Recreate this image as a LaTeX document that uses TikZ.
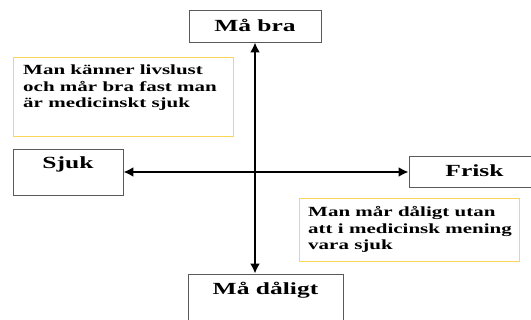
\documentclass[tikz,border=0pt]{standalone}
\usepackage{fontspec}
\setmainfont{Liberation Serif}[FakeStretch=1.5]
\usepackage{tikz}
\usetikzlibrary{arrows,arrows.meta,shapes,positioning}
\usepackage{color}

\definecolor{boxgray}{RGB}{90,90,90}
\definecolor{notegold}{RGB}{250,215,90}

\tikzset{
  axisbox/.style={draw=boxgray, line width=0.9pt, inner xsep=0pt, inner ysep=0pt, font=\fontsize{17}{20}\selectfont\bfseries},
  notebox/.style={anchor=base west, align=left, inner sep=0pt, font=\fontsize{14}{16.7}\selectfont\bfseries},
  axisarrow/.style={line width=2.6pt, {Latex[length=10pt,width=10pt]}-{Latex[length=10pt,width=10pt]}}
}

\begin{document}
\begin{tikzpicture}[x=1pt,y=-1pt]
\clip (0,0) rectangle (531,320);
\fill [white] (0,0) rectangle (531,320);

\node [axisbox, minimum width=132pt, text height=22pt, text depth=10pt] (mabra) at (255,26) {Må bra};
\node [axisbox, minimum width=155pt, text height=21pt, text depth=27pt] (madaligt) at (265.5,298) {Må dåligt};
\node [axisbox, minimum width=110pt, text height=20pt, text depth=26pt] (sjuk) at (68,172) {Sjuk};
\node [axisbox, minimum width=131pt, text height=20pt, text depth=11pt] (frisk) at (474.5,172) {Frisk};

% % % % % % % % % % % % % % % % % % % % % % % % % %

\draw [notegold, line width=0.9pt] (13,57) rectangle (233,136);
\node [notebox] (kanner) at (23,108) {Man känner livslust\\och mår bra fast man\\är medicinskt sjuk};

\draw [notegold, line width=0.9pt] (299,198) rectangle (519,261);
\node [notebox] (daligt) at (308,250) {Man mår dåligt utan\\att i medicinsk mening\\vara sjuk};

% % % % % % % % % % % % % % % % % % % % % % % % % %

\draw [axisarrow] (mabra.south) -- (mabra.south |- madaligt.north);
\draw [axisarrow] (sjuk.east |- frisk.west) -- (frisk.west);
\end{tikzpicture}
\end{document}
